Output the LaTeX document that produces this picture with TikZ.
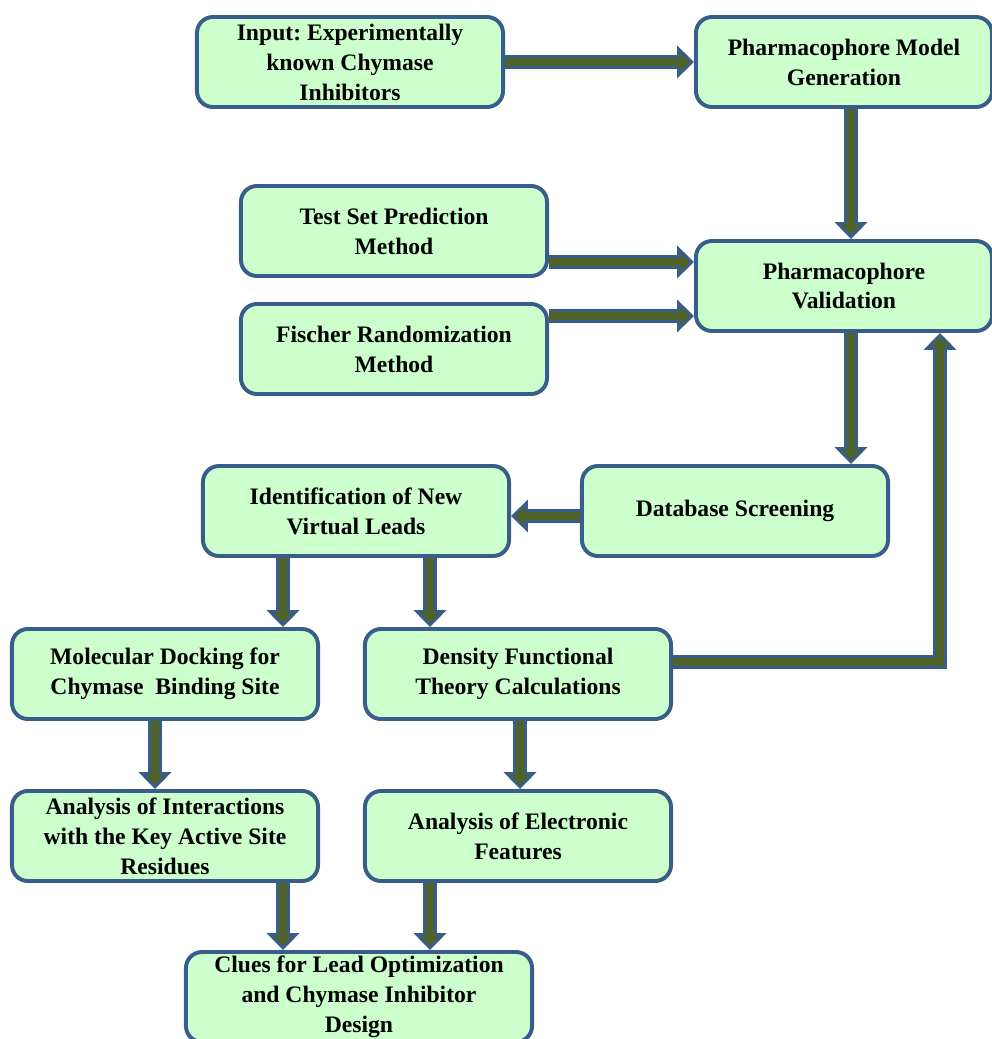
\documentclass[tikz,border=0pt]{standalone}
\usepackage{fontspec}
\setmainfont{Liberation Serif}
\usetikzlibrary{arrows.meta,calc}
\definecolor{boxfill}{RGB}{204,255,204}
\definecolor{boxline}{RGB}{56,93,138}
\definecolor{arrowcore}{RGB}{79,98,40}
\frenchspacing

\begin{document}
\begin{tikzpicture}[x=0.025cm, y=-0.025cm,
        box/.style={rectangle, rounded corners=0.4cm, draw=boxline, line width=2.8pt, fill=boxfill, minimum width=7.65cm, minimum height=2.25cm, align=center, inner sep=0pt, font=\fontsize{16.8}{21.3}\selectfont\bfseries},
        flow/.style={draw=boxline, line width=10pt, line join=miter, -{Triangle[width=23pt, length=12pt, line width=2pt, fill=arrowcore]}, postaction={draw=arrowcore, line width=5pt, shorten >=6pt, -}}]

        \clip (0,0) rectangle (992,1039);

        \node[box] (input) at (350,62) {Input: Experimentally\\known Chymase\\Inhibitors};
        \node[box, minimum width=7.4cm] (pmg) at (844,62) {Pharmacophore Model\\Generation};
        \node[box] (test) at (394,231) {Test Set Prediction\\Method};
        \node[box, minimum width=7.4cm] (pval) at (844,286) {Pharmacophore\\Validation};
        \node[box] (fischer) at (394,349) {Fischer Randomization\\Method};
        \node[box] (dbscreen) at (735,511) {Database Screening};
        \node[box] (ident) at (356,511) {Identification of New\\Virtual Leads};
        \node[box] (dock) at (165,674) {Molecular Docking for\\Chymase~ Binding Site};
        \node[box] (dft) at (518,674) {Density Functional\\Theory Calculations};
        \node[box] (interact) at (165,836) {Analysis of Interactions\\with the Key Active Site\\Residues};
        \node[box] (electronic) at (518,836) {Analysis of Electronic\\Features};
        \node[box, minimum width=8.65cm] (clues) at (359,997) {Clues for Lead Optimization\\and Chymase Inhibitor\\Design};

        % arrow lanes
        \coordinate (colR) at (851,0);
        \coordinate (colA) at (283,0);
        \coordinate (colB) at (430,0);
        \coordinate (colC) at (155,0);
        \coordinate (colD) at (520,0);
        \coordinate (colE) at (940,0);
        \coordinate (rowT) at (0,262);
        \coordinate (rowF) at (0,316);
        \coordinate (rowS) at (0,516);
        \coordinate (rowD) at (0,662);

        \draw[flow] (input.east) -- (pmg.west);
        \draw[flow] (pmg.south -| colR) -- (pval.north -| colR);
        \draw[flow] (test.east |- rowT) -- (pval.west |- rowT);
        \draw[flow] (fischer.east |- rowF) -- (pval.west |- rowF);
        \draw[flow] (pval.south -| colR) -- (dbscreen.north -| colR);
        \draw[flow] (dbscreen.west |- rowS) -- (ident.east |- rowS);
        \draw[flow] (ident.south -| colA) -- (dock.north -| colA);
        \draw[flow] (ident.south -| colB) -- (dft.north -| colB);
        \draw[flow] (dock.south -| colC) -- (interact.north -| colC);
        \draw[flow] (dft.south -| colD) -- (electronic.north -| colD);
        \draw[flow] (interact.south -| colA) -- (clues.north -| colA);
        \draw[flow] (electronic.south -| colB) -- (clues.north -| colB);
        \draw[flow] (dft.east |- rowD) -| (pval.south -| colE);

\end{tikzpicture}
\end{document}
